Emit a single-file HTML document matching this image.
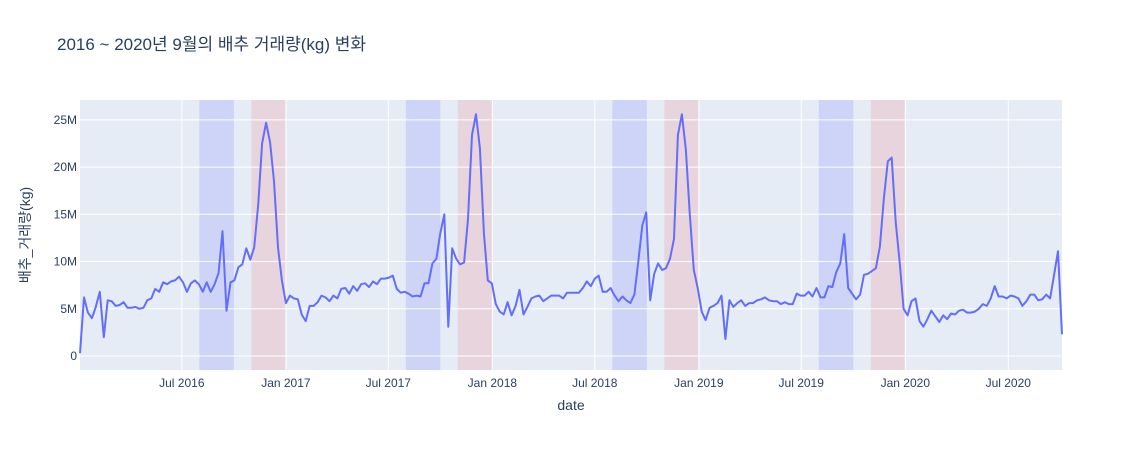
<!DOCTYPE html>
<html><head><meta charset="utf-8">
<style>
body{margin:0;background:#fff;}
svg text{font-family:"Liberation Sans","Noto Sans CJK KR",sans-serif;fill:#2a3f5f;}
</style></head>
<body>
<svg id="chart" width="1143" height="450" xmlns="http://www.w3.org/2000/svg">
<rect width="1143" height="450" fill="#fff"/>
<text x="57" y="50" font-size="17">2016 ~ 2020년 9월의 배추 거래량(kg) 변화</text>
<rect x="80" y="100" width="982" height="270" fill="#e5ecf6"/>
<g id="shades"></g><g id="grid"></g><g id="ticks"></g><g id="series"></g>
<text x="571" y="410" font-size="14" text-anchor="middle">date</text>
<text transform="translate(30,235) rotate(-90)" font-size="14" text-anchor="middle">배추_거래량(kg)</text>
</svg>
<script>
const startDate = "2016-01-03";
const values = [0.3,6.2,4.6,4.0,5.2,6.8,2.0,5.9,5.8,5.3,5.4,5.7,5.1,5.1,5.2,5.0,5.1,5.9,6.1,7.1,6.8,7.8,7.6,7.9,8.0,8.4,7.8,6.8,7.7,8.0,7.6,6.8,7.8,6.8,7.6,8.8,13.2,4.8,7.8,8.0,9.4,9.7,11.4,10.2,11.5,16.0,22.5,24.7,22.6,18.5,11.5,8.0,5.6,6.4,6.1,6.0,4.4,3.7,5.3,5.3,5.7,6.4,6.2,5.8,6.4,6.1,7.1,7.2,6.6,7.4,6.9,7.6,7.7,7.3,7.9,7.6,8.2,8.2,8.3,8.5,
7.1,6.7,6.8,6.6,6.3,6.4,6.3,7.7,7.7,9.8,10.3,13.0,15.0,3.1,11.4,10.3,9.7,9.9,14.5,23.4,25.6,22.0,13.0,8.0,7.7,5.5,4.7,4.4,5.7,4.3,5.3,7.0,4.4,5.2,6.1,6.3,6.4,5.8,6.1,6.4,6.4,6.4,6.1,6.7,6.7,6.7,6.7,7.2,7.9,7.4,
8.2,8.5,6.8,6.8,7.2,6.4,5.8,6.3,5.9,5.6,6.5,10.0,13.8,15.2,5.9,8.7,9.8,9.1,9.3,10.3,12.4,23.4,25.6,21.9,15.0,9.1,7.2,4.7,3.8,5.1,5.3,5.6,6.4,1.8,5.9,5.2,5.6,5.9,5.3,5.6,5.6,5.9,6.0,6.2,5.9,5.8,5.8,5.5,5.7,5.5,5.5,6.6,6.4,6.4,6.8,6.3,7.2,6.2,6.2,
7.4,7.3,8.9,9.8,12.9,7.2,6.6,6.0,6.5,8.6,8.7,9.0,9.3,11.6,16.6,20.6,21.0,14.2,9.9,5.0,4.3,5.8,6.1,3.7,3.1,3.9,4.8,4.2,3.6,4.3,3.9,4.5,4.4,4.8,4.9,4.6,4.6,4.7,5.0,5.5,5.3,6.1,7.4,6.3,6.3,6.1,6.4,6.3,6.1,5.3,5.8,6.5,6.5,5.9,6.0,6.5,6.1,8.6,11.1,2.3];
const yTickValues = [0,5,10,15,20,25];
const yTickLabels = ["0","5M","10M","15M","20M","25M"];
const xTickDates = ["2016-07-01","2017-01-01","2017-07-01","2018-01-01","2018-07-01","2019-01-01","2019-07-01","2020-01-01","2020-07-01"];
const xTickLabels = ["Jul 2016","Jan 2017","Jul 2017","Jan 2018","Jul 2018","Jan 2019","Jul 2019","Jan 2020","Jul 2020"];
const blueStarts = ["2016-08-01","2017-08-01","2018-08-01","2019-08-01"];
const blueEnds = ["2016-10-01","2017-10-01","2018-10-01","2019-10-01"];
const redStarts = ["2016-11-01","2017-11-01","2018-11-01","2019-11-01"];
const redEnds = ["2017-01-01","2018-01-01","2019-01-01","2020-01-01"];

const NS="http://www.w3.org/2000/svg";
const DAY=86400000;
const t0=Date.parse(startDate);
const dates=values.map((v,i)=>t0+i*7*DAY);
const t1=dates[dates.length-1];
const X0=80,X1=1062,Y0=370,Y1=100,YMIN=-1.48,YMAX=27.1;
function xs(t){return X0+(t-t0)/(t1-t0)*(X1-X0);}
function ys(v){return Y0-(v-YMIN)/(YMAX-YMIN)*(Y0-Y1);}
function mk(tag,attrs,parent){const e=document.createElementNS(NS,tag);for(const k in attrs)e.setAttribute(k,attrs[k]);parent.appendChild(e);return e;}
const shades=document.getElementById('shades');
blueStarts.forEach((s,i)=>{
  const a=xs(Date.parse(s)),b=xs(Date.parse(blueEnds[i]));
  const r=mk('rect',{x:a,y:Y1,width:b-a,height:Y0-Y1,fill:'rgba(0,0,255,0.1)'},shades);
  
  
});
redStarts.forEach((s,i)=>{
  const a=xs(Date.parse(s)),b=xs(Date.parse(redEnds[i]));
  const r=mk('rect',{x:a,y:Y1,width:b-a,height:Y0-Y1,fill:'rgba(255,0,0,0.1)'},shades);
  
  
});
const grid=document.getElementById('grid'),ticks=document.getElementById('ticks');
yTickValues.forEach((v,i)=>{
  const y=ys(v);
  const l=mk('line',{x1:X0,x2:X1,y1:y,y2:y,stroke:'#fff','stroke-width':1},grid);
  
  
  const t=mk('text',{x:X0-3,y:y+4,'font-size':12,'text-anchor':'end'},ticks);
  t.textContent=yTickLabels[i];
  
  
});
xTickDates.forEach((d,i)=>{
  const x=xs(Date.parse(d));
  const l=mk('line',{x1:x,x2:x,y1:Y1,y2:Y0,stroke:'#fff','stroke-width':1},grid);
  
  
  const t=mk('text',{x:x,y:387,'font-size':12,'text-anchor':'middle'},ticks);
  t.textContent=xTickLabels[i];
  
  
});
const pts=values.map((v,i)=>xs(dates[i]).toFixed(1)+','+ys(v).toFixed(1)).join(' ');
const line=mk('polyline',{points:pts,fill:'none',stroke:'#636efa','stroke-width':2,'stroke-linejoin':'round'},document.getElementById('series'));


</script>
</body></html>
